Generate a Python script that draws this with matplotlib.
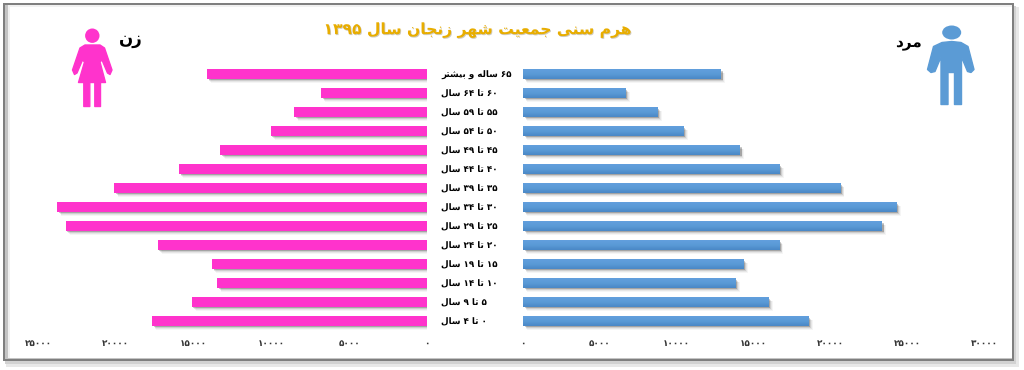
import numpy as np
import matplotlib
matplotlib.use('Agg')
import matplotlib.pyplot as plt
import matplotlib.patheffects as pe
from matplotlib.colors import LinearSegmentedColormap
from matplotlib.patches import Rectangle, Circle, Ellipse, Polygon

plt.rcParams['font.family'] = 'DejaVu Sans'
plt.rcParams['text.hinting'] = 'no_hinting'

title = 'هرم سنی جمعیت شهر زنجان سال ۱۳۹۵'
female_name = 'زن'
male_name = 'مرد'

# top row first, as in the picture
age_groups = ['۶۵ ساله و بیشتر', '۶۰ تا ۶۴ سال', '۵۵ تا ۵۹ سال', '۵۰ تا ۵۴ سال',
              '۴۵ تا ۴۹ سال', '۴۰ تا ۴۴ سال', '۳۵ تا ۳۹ سال', '۳۰ تا ۳۴ سال',
              '۲۵ تا ۲۹ سال', '۲۰ تا ۲۴ سال', '۱۵ تا ۱۹ سال', '۱۰ تا ۱۴ سال',
              '۵ تا ۹ سال', '۰ تا ۴ سال']
female = [14140, 6810, 8530, 10050, 13280, 15940, 20100,
          23760, 23220, 17310, 13820, 13480, 15120, 17670]
male = [12880, 6680, 8760, 10450, 14120, 16700, 20650,
        24320, 23360, 16660, 14360, 13820, 15970, 18590]
female_ticks = [0, 5000, 10000, 15000, 20000, 25000]
male_ticks = [0, 5000, 10000, 15000, 20000, 25000, 30000]

PINK = '#ff33cc'
BLUE = '#5b9bd5'

# matplotlib has no arabic shaping, so pick the joined glyphs by hand
# letter: isolated, final, initial, medial
FORMS = {'ا': (0xFE8D, 0xFE8E), 'د': (0xFEA9, 0xFEAA), 'ر': (0xFEAD, 0xFEAE),
         'ز': (0xFEAF, 0xFEB0), 'و': (0xFEED, 0xFEEE),
         'ب': (0xFE8F, 0xFE90, 0xFE91, 0xFE92), 'ت': (0xFE95, 0xFE96, 0xFE97, 0xFE98),
         'ج': (0xFE9D, 0xFE9E, 0xFE9F, 0xFEA0), 'س': (0xFEB1, 0xFEB2, 0xFEB3, 0xFEB4),
         'ش': (0xFEB5, 0xFEB6, 0xFEB7, 0xFEB8), 'ع': (0xFEC9, 0xFECA, 0xFECB, 0xFECC),
         'ل': (0xFEDD, 0xFEDE, 0xFEDF, 0xFEE0), 'م': (0xFEE1, 0xFEE2, 0xFEE3, 0xFEE4),
         'ن': (0xFEE5, 0xFEE6, 0xFEE7, 0xFEE8), 'ه': (0xFEE9, 0xFEEA, 0xFEEB, 0xFEEC),
         'ی': (0xFBFC, 0xFBFD, 0xFBFE, 0xFBFF)}


def shape_word(word):
    if word[0] not in FORMS:
        return word  # digits stay left to right
    out = []
    for i, ch in enumerate(word):
        f = FORMS[ch]
        prev_joins = i > 0 and len(FORMS[word[i-1]]) == 4
        next_joins = i < len(word)-1 and len(f) == 4
        if prev_joins and next_joins:
            out.append(f[3])
        elif next_joins:
            out.append(f[2])
        elif prev_joins:
            out.append(f[1])
        else:
            out.append(f[0])
    return ''.join(chr(c) for c in reversed(out))


def fa(text):
    return ' '.join(shape_word(w) for w in reversed(text.split(' ')))


def fa_num(n):
    return str(n).translate(str.maketrans('0123456789', '۰۱۲۳۴۵۶۷۸۹'))


W, H = 1024, 370
fig = plt.figure(figsize=(W/100, H/100), dpi=100, facecolor='white')


def px_axes(x0, y0, x1, y1, **kw):
    return fig.add_axes([x0/W, 1-y1/H, (x1-x0)/W, (y1-y0)/H], **kw)


# frame and icons are drawn in picture pixels on a background axes
bg = px_axes(0, 0, W, H)
bg.set_xlim(0, W)
bg.set_ylim(H, 0)
bg.axis('off')
bg.add_patch(Rectangle((6, 7), 1013, 360, color='#e8e8e8', lw=0))
bg.add_patch(Rectangle((5, 6), 1011, 358, color='#d2d2d2', lw=0))
bg.add_patch(Rectangle((3, 3), 1011, 358, color='#7f7f7f', lw=0))
bg.add_patch(Rectangle((5, 5), 1007, 354, color='#c4c4c4', lw=0))
bg.add_patch(Rectangle((8, 5), 1004, 353, color='#f1f1f1', lw=0))
bg.add_patch(Rectangle((10, 7), 1002, 351, color='white', lw=0))

# woman
bg.add_patch(Circle((92.3, 35.7), 7.2, color=PINK, lw=0))
bg.add_patch(Polygon([(85, 45), (100, 45), (104.5, 48), (112, 70), (110, 74.5), (107.5, 73),
                      (102, 60), (100, 62), (105.5, 82.5), (100.5, 82.5), (100.5, 106.5),
                      (94.8, 106.5), (94.8, 82.5), (89.8, 82.5), (89.8, 106.5), (83.8, 106.5),
                      (83.8, 82.5), (78.5, 82.5), (84.5, 62), (82.5, 60), (77, 73),
                      (74.5, 74.5), (72.5, 70), (80, 48)],
                     closed=True, facecolor=PINK, edgecolor=PINK, lw=1, joinstyle='round'))
# man
bg.add_patch(Ellipse((951.7, 32.5), 19, 14, color=BLUE, lw=0))
bg.add_patch(Polygon([(942, 42.5), (951.7, 41.5), (961, 42.5), (968, 46.5), (974, 69.5), (971, 72.5),
                      (967.5, 71.5), (961.5, 57), (961.5, 104.5), (954.5, 104.5), (954.5, 72.5),
                      (948, 72.5), (948, 104.5), (941, 104.5), (941, 57), (935, 71.5),
                      (931, 72.5), (927.5, 69.5), (933.5, 46.5)],
                     closed=True, facecolor=BLUE, edgecolor=BLUE, lw=1, joinstyle='round'))

fig.text(477/W, 1-30/H, fa(title), ha='center', va='center', fontsize=11.2, fontweight='bold',
         color='#e8ad00', path_effects=[pe.withSimplePatchShadow(offset=(0.6, -0.7), alpha=0.25)])
fig.text(131/W, 1-40/H, fa(female_name), ha='center', va='center', fontsize=12, fontweight='bold', color='black')
fig.text(908/W, 1-43/H, fa(male_name), ha='center', va='center', fontsize=11, fontweight='bold', color='black')

y = np.arange(len(age_groups))[::-1]
bar_h = 0.5
shadow = [pe.SimplePatchShadow(offset=(off, -off), shadow_rgbFace='k', alpha=al)
          for off, al in [(3, 0.04), (2.4, 0.06), (1.8, 0.1), (1.2, 0.2)]] + [pe.Normal()]

ax_f = px_axes(38, 64.5, 427, 330.5)
ax_m = px_axes(523, 64.5, 984, 330.5)
ax_f.barh(y, female, height=bar_h, color=PINK, path_effects=shadow, zorder=2)
ax_m.barh(y, male, height=bar_h, color=BLUE, path_effects=shadow, zorder=2)

# blue bars are lighter at the top edge
blues = LinearSegmentedColormap.from_list('blues', ['#629fdd', '#5a9ad6', '#4a88c6'])
grad = np.linspace(0, 1, 32).reshape(-1, 1)
for yy, val in zip(y, male):
    ax_m.imshow(grad, extent=[0, val, yy-bar_h/2, yy+bar_h/2], origin='upper',
                aspect='auto', cmap=blues, zorder=3)

ax_f.set_xlim(25000, 0)
ax_m.set_xlim(0, 30000)

for a, ticks in [(ax_f, female_ticks), (ax_m, male_ticks)]:
    a.set_ylim(-0.5, len(age_groups)-0.5)
    a.patch.set_alpha(0)
    for s in a.spines.values():
        s.set_visible(False)
    a.set_xticks(ticks)
    a.set_xticklabels([fa_num(t) for t in ticks], fontsize=6.4, fontweight='bold', color='#333333')
    a.tick_params(axis='x', length=0, pad=6)

ax_m.set_yticks([])
ax_f.yaxis.tick_right()
ax_f.set_yticks(y)
ax_f.set_yticklabels([fa(a) for a in age_groups], fontsize=6.3, fontweight='bold', color='black', ha='left')
ax_f.tick_params(axis='y', length=0, pad=10)

fig.savefig('out.png', dpi=100)
